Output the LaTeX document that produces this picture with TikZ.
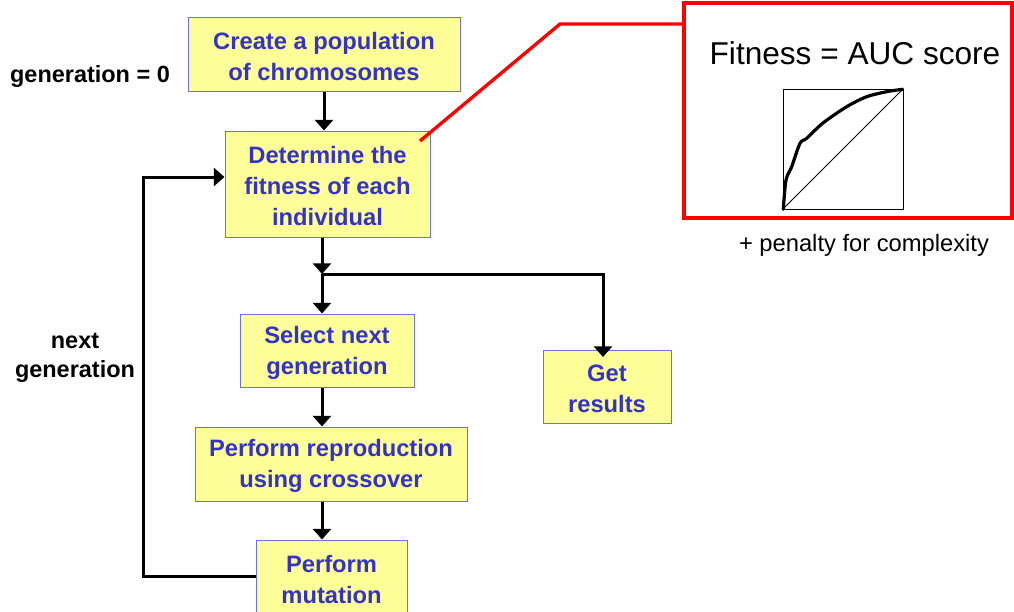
\documentclass[tikz,border=0pt]{standalone}
\usepackage{fontspec}
\setmainfont{Liberation Sans}
\usetikzlibrary{arrows.meta}
\definecolor{boxfill}{RGB}{255,255,153}
\definecolor{boxline}{RGB}{110,110,230}
\definecolor{boxtext}{RGB}{51,51,204}
\definecolor{hlred}{RGB}{255,0,0}
% raises the first line's height so the text sits slightly low in its box
\newcommand{\toppad}{\rule{0pt}{16pt}}
\tikzset{
  stepbox/.style={draw=boxline, fill=boxfill, line width=0.75pt, text=boxtext,
    font=\fontsize{17.8}{23.25}\selectfont\bfseries, align=center, inner sep=0pt},
  arr/.style={line width=2.25pt, line join=miter,
    -{Triangle[width=13.5pt,length=8pt]}},
  sidelabel/.style={font=\fontsize{17.6}{21.75}\selectfont\bfseries, align=center, inner sep=0pt},
}
\begin{document}
\begin{tikzpicture}[x=0.75pt, y=-0.75pt]
\useasboundingbox (0,0) rectangle (1014,611);

% flowchart steps
\node[stepbox, minimum width=204pt, minimum height=55.5pt] (create) at (324,54)
  {\toppad Create a population\\of chromosomes};
\node[stepbox, minimum width=153.75pt, minimum height=79.5pt] (determine) at (327.5,184)
  {\toppad Determine the\\fitness of each\\individual};
\node[stepbox, minimum width=130.5pt, minimum height=54.75pt] (select) at (327,350.5)
  {\toppad Select next\\generation};
\node[stepbox, minimum width=96pt, minimum height=54.75pt] (get) at (607,386.5)
  {\toppad Get\\results};
\node[stepbox, minimum width=204pt, minimum height=55.5pt] (repro) at (331,464)
  {\toppad Perform reproduction\\using crossover};
\node[stepbox, minimum width=113.25pt, minimum height=55.5pt] (mutation) at (331.5,577)
  {\toppad Perform\\mutation};

% side labels
\node[sidelabel] (gen0) at (90,76) {generation = 0};
\node[sidelabel] (nextgen) at (75,358) {next\\generation};

% connectors
\coordinate (br) at (322,274);
\coordinate (gettip) at (603,357);
\coordinate (loopA) at (143,576);
\coordinate (loopB) at (143,177);

\draw[arr] (create.south) -- (create.south |- determine.north);
\draw[arr] (br |- determine.south) -- (br);
\draw[arr] (br) -- (br |- select.north);
\draw[arr] (br) -- (gettip |- br) -- (gettip);
\draw[arr] (br |- select.south) -- (br |- repro.north);
\draw[arr] (br |- repro.south) -- (br |- mutation.north);
\draw[arr] (mutation.west |- loopA) -- (loopA) -- (loopB) -- (determine.west |- loopB);

% fitness call-out
\node[draw=hlred, line width=2.5pt, minimum width=246pt, minimum height=161.25pt,
  inner sep=0pt] (fitbox) at (848,110.5) {};
\node[font=\fontsize{23.7}{28}\selectfont, inner sep=0pt] (fittitle) at (855,53)
  {Fitness = AUC score};
\node[font=\fontsize{17.8}{21}\selectfont, inner sep=0pt] (penalty) at (864,245)
  {+ penalty for complexity};
\coordinate (redA) at (420,141);
\coordinate (redB) at (560,24);
\draw[hlred, line width=2.5pt, line join=miter] (redA) -- (redB) -- (redB -| fitbox.west);

% ROC curve
\draw[line width=0.75pt] (783,89) rectangle (903,209);
\draw[line width=0.6pt] (783,209) -- (903,89);
\draw[line width=2.4pt, line cap=round, line join=round]
  plot[smooth, tension=0.5] coordinates {(783.3,209.3) (786,180) (791.7,166.7) (800,143.3)
  (806.7,138.3) (823,123) (846.7,106.7) (866.7,96.7) (886.7,91.7) (902.7,89.3)};
\end{tikzpicture}
\end{document}
